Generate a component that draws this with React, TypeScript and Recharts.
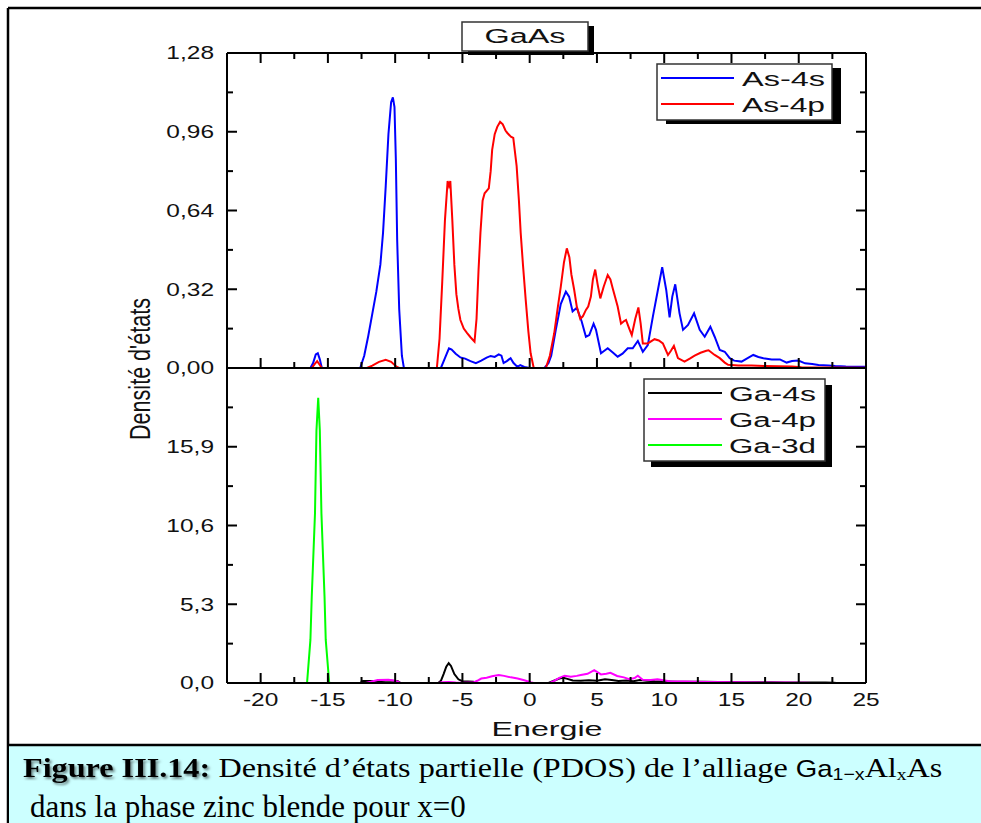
import React from "react";
import { LineChart, Line, XAxis, YAxis } from "recharts";

// energy (eV), density
const as4s: [number, number][] = [
  [-17.8, 0], [-16.3, 0], [-16.1, 0.02], [-15.9, 0.055], [-15.75, 0.06], [-15.6, 0.035], [-15.45, 0],
  [-12.6, 0], [-12.3, 0.05], [-12.0, 0.13], [-11.7, 0.22], [-11.4, 0.31], [-11.1, 0.42], [-10.9, 0.55],
  [-10.7, 0.74], [-10.5, 0.95], [-10.3, 1.08], [-10.17, 1.1], [-10.05, 1.06], [-9.95, 0.85], [-9.85, 0.52],
  [-9.7, 0.24], [-9.5, 0.05], [-9.35, 0],
  [-6.6, 0], [-6.3, 0.04], [-6.0, 0.08], [-5.8, 0.075], [-5.5, 0.058], [-5.15, 0.043], [-4.8, 0.038],
  [-4.4, 0.028], [-4.0, 0.02], [-3.6, 0.03], [-3.2, 0.042], [-2.9, 0.049], [-2.6, 0.045], [-2.3, 0.055],
  [-2.1, 0.05], [-1.94, 0.02], [-1.7, 0.028], [-1.42, 0.04], [-1.2, 0.02], [-0.92, 0.005], [-0.7, 0.012],
  [-0.4, 0.004], [0, 0], [1.1, 0], [1.4, 0.02], [1.6, 0.05], [1.94, 0.155], [2.31, 0.26], [2.69, 0.31],
  [2.93, 0.29], [3.19, 0.23], [3.5, 0.245], [3.86, 0.19], [4.18, 0.127], [4.43, 0.134], [4.75, 0.18],
  [4.93, 0.155], [5.3, 0.06], [5.8, 0.08], [6.2, 0.062], [6.54, 0.046], [6.9, 0.058], [7.29, 0.08],
  [7.66, 0.08], [8.04, 0.11], [8.41, 0.066], [8.78, 0.093], [9.16, 0.21], [9.53, 0.317], [9.85, 0.41],
  [10.15, 0.317], [10.4, 0.206], [10.6, 0.29], [10.82, 0.34], [11.14, 0.222], [11.4, 0.155], [11.77, 0.175],
  [12.22, 0.222], [12.64, 0.155], [13.01, 0.127], [13.43, 0.168], [13.75, 0.127], [14.13, 0.073],
  [14.5, 0.066], [14.87, 0.04], [15.2, 0.03], [15.75, 0.026], [16.2, 0.04], [16.62, 0.053], [17.0, 0.045],
  [17.37, 0.04], [17.99, 0.035], [18.6, 0.035], [19.1, 0.022], [19.5, 0.028], [19.98, 0.03], [20.47, 0.019],
  [21.0, 0.016], [21.47, 0.012], [22.2, 0.01], [22.71, 0.008], [23.5, 0.006], [25, 0.005],
];

const as4p: [number, number][] = [
  [-17.8, 0], [-16.2, 0], [-16.0, 0.015], [-15.8, 0.028], [-15.6, 0.012], [-15.45, 0], [-12.1, 0],
  [-11.7, 0.01], [-11.2, 0.025], [-10.7, 0.033], [-10.3, 0.025], [-9.9, 0.005], [-9.7, 0], [-6.9, 0],
  [-6.7, 0.12], [-6.5, 0.35], [-6.3, 0.6], [-6.1, 0.76], [-6.0, 0.74], [-5.9, 0.76], [-5.75, 0.6],
  [-5.6, 0.42], [-5.45, 0.3], [-5.3, 0.24], [-5.15, 0.195], [-4.9, 0.16], [-4.65, 0.142], [-4.4, 0.125],
  [-4.1, 0.107], [-3.95, 0.2], [-3.8, 0.4], [-3.66, 0.55], [-3.5, 0.68], [-3.35, 0.71], [-3.04, 0.73],
  [-2.9, 0.8], [-2.79, 0.886], [-2.6, 0.95], [-2.41, 0.98], [-2.2, 1.0], [-2.0, 0.99], [-1.8, 0.965],
  [-1.66, 0.955], [-1.4, 0.94], [-1.22, 0.935], [-1.1, 0.88], [-0.97, 0.82], [-0.8, 0.68], [-0.67, 0.55],
  [-0.5, 0.42], [-0.3, 0.28], [-0.1, 0.15], [0.07, 0.06], [0.3, 0], [1.2, 0], [1.5, 0.05], [1.82, 0.14],
  [2.1, 0.25], [2.31, 0.33], [2.55, 0.43], [2.76, 0.486], [2.95, 0.45], [3.1, 0.38], [3.31, 0.317],
  [3.5, 0.25], [3.76, 0.2], [3.95, 0.21], [4.18, 0.236], [4.35, 0.25], [4.55, 0.29], [4.7, 0.36],
  [4.87, 0.4], [5.05, 0.34], [5.25, 0.283], [5.5, 0.33], [5.8, 0.378], [6.0, 0.36], [6.17, 0.324],
  [6.54, 0.25], [6.79, 0.18], [7.0, 0.19], [7.16, 0.195], [7.4, 0.16], [7.59, 0.134], [7.85, 0.2],
  [8.08, 0.246], [8.25, 0.18], [8.41, 0.1], [8.78, 0.1], [9.28, 0.117], [9.6, 0.112], [9.9, 0.1],
  [10.28, 0.053], [10.5, 0.07], [10.72, 0.09], [11.02, 0.04], [11.51, 0.026], [11.9, 0.038], [12.26, 0.05],
  [12.7, 0.062], [13.13, 0.07], [13.3, 0.072], [13.75, 0.053], [14.13, 0.04], [14.5, 0.022], [14.75, 0.013],
  [15.5, 0.01], [16.5, 0.01], [17.5, 0.008], [18.5, 0.007], [19.5, 0.006], [20.2, 0.003], [22, 0.002],
  [25, 0.001],
];

const ga4s: [number, number][] = [
  [-18, 0], [-12.6, 0], [-12.4, 0.13], [-11, 0.14], [-10.4, 0.16], [-9.8, 0.12], [-9.6, 0], [-6.8, 0],
  [-6.6, 0.15], [-6.4, 0.6], [-6.2, 1.1], [-6.02, 1.33], [-5.85, 1.15], [-5.6, 0.6], [-5.3, 0.25],
  [-5.0, 0.12], [-4.6, 0.1], [-4.2, 0.08], [-3.9, 0], [1.4, 0], [1.8, 0.15], [2.2, 0.3], [2.5, 0.35],
  [2.8, 0.28], [3.2, 0.17], [3.8, 0.15], [4.4, 0.18], [5.0, 0.15], [5.6, 0.25], [6.1, 0.2], [6.6, 0.14],
  [7.2, 0.16], [7.7, 0.12], [8.2, 0.2], [8.7, 0.15], [9.3, 0.12], [10, 0.1], [11, 0.09], [12, 0.08],
  [13, 0.09], [14, 0.07], [15, 0.06], [16, 0.05], [17, 0.05], [18, 0.05], [19, 0.04], [20, 0.04],
  [21, 0.04], [22, 0.03], [22.6, 0.02], [22.8, 0],
];

const ga4p: [number, number][] = [
  [-18, 0], [-12.2, 0], [-11.8, 0.08], [-11.3, 0.2], [-10.5, 0.22], [-10.0, 0.15], [-9.6, 0], [-6.8, 0],
  [-6.5, 0.05], [-6.0, 0.07], [-5.5, 0.03], [-5.0, 0.02], [-4.2, 0.03], [-3.9, 0.15], [-3.6, 0.3],
  [-3.2, 0.35], [-2.8, 0.45], [-2.3, 0.54], [-1.9, 0.48], [-1.4, 0.38], [-0.9, 0.3], [-0.4, 0.18],
  [0.07, 0.05], [0.3, 0], [1.5, 0], [1.82, 0.15], [2.2, 0.35], [2.6, 0.48], [3.06, 0.42], [3.5, 0.48],
  [3.8, 0.54], [4.3, 0.62], [4.8, 0.87], [5.3, 0.58], [5.7, 0.62], [6.0, 0.69], [6.5, 0.47], [7.0, 0.38],
  [7.4, 0.25], [7.8, 0.33], [8.04, 0.49], [8.4, 0.22], [9.0, 0.2], [9.5, 0.25], [10.5, 0.1], [11.5, 0.1],
  [13, 0.07], [15.5, 0.05], [17, 0.04], [19, 0.03], [20.5, 0.01], [21, 0], [25, 0],
];

const ga3d: [number, number][] = [
  [-18, 0], [-16.55, 0], [-16.3, 2.9], [-16.2, 5.8], [-15.96, 11.4], [-15.85, 17], [-15.72, 19.2],
  [-15.6, 17], [-15.48, 11.4], [-15.25, 5.8], [-15.16, 2.9], [-14.9, 0], [25, 0],
];

const xTicks = [-20, -17.5, -15, -12.5, -10, -7.5, -5, -2.5, 0, 2.5, 5, 7.5, 10, 12.5, 15, 17.5, 20, 22.5, 25];
const xMajor = [-20, -15, -10, -5, 0, 5, 10, 15, 20, 25];
const topTicks = [0, 0.16, 0.32, 0.48, 0.64, 0.8, 0.96, 1.12, 1.28];
const topMajor = [0, 0.32, 0.64, 0.96, 1.28];
const botTicks = [0, 2.65, 5.3, 7.95, 10.6, 13.25, 15.9, 18.55, 21.2];
const botMajor = [0, 5.3, 10.6, 15.9, 21.2];
const botLabelled = [0, 5.3, 10.6, 15.9];

const topSeries = [
  { name: "As-4s", color: "#0000ff", data: as4s },
  { name: "As-4p", color: "#ff0000", data: as4p },
];
const botSeries = [
  { name: "Ga-4s", color: "#000000", data: ga4s },
  { name: "Ga-4p", color: "#ff00ff", data: ga4p },
  { name: "Ga-3d", color: "#00ff00", data: ga3d },
];

const SANS = "'Liberation Sans', Arial, sans-serif";
const SERIF = "'Liberation Serif', 'Times New Roman', serif";
const SX = 1.4;

const has = (arr: number[], v: number) => arr.some((m) => Math.abs(m - v) < 1e-6);

function makeTick(
  side: "left" | "right" | "top" | "bottom",
  majors: number[],
  labelled: number[] = [],
  fmt: (v: number) => string = (v) => String(v)
) {
  return (props: any) => {
    const { x, y, payload } = props;
    const v = payload.value;
    const len = has(majors, v) ? 10 : 6;
    const showLabel = has(labelled, v);
    let line;
    if (side === "left") line = <line x1={x} y1={y} x2={x + len} y2={y} />;
    else if (side === "right") line = <line x1={x} y1={y} x2={x - len} y2={y} />;
    else if (side === "top") line = <line x1={x} y1={y} x2={x} y2={y + len} />;
    else line = <line x1={x} y1={y} x2={x} y2={y - len} />;
    return (
      <g stroke="#000" strokeWidth={2}>
        {line}
        {showLabel && side === "left" && (
          <g transform={`translate(${x - 13},${y}) scale(${SX},1)`}>
            <text x={0} y={0} dy="0.36em" textAnchor="end" fontSize={17.5} fontFamily={SANS} fill="#111" stroke="none">
              {fmt(v)}
            </text>
          </g>
        )}
        {showLabel && side === "bottom" && (
          <g transform={`translate(${x},${y + 23}) scale(${SX},1)`}>
            <text x={0} y={0} textAnchor="middle" fontSize={17.5} fontFamily={SANS} fill="#111" stroke="none">
              {fmt(v)}
            </text>
          </g>
        )}
      </g>
    );
  };
}

const toPts = (d: [number, number][]) => d.map(([e, v]) => ({ e, v }));
const comma = (digits: number) => (v: number) => v.toFixed(digits).replace(".", ",");
const axisLine = { stroke: "#000", strokeWidth: 2 };

function Panel({
  top, height, marginTop, marginBottom, yDomain, yTicks, yMajor, yLabelled, yFmt, series, showXLabels, showTopAxis,
}: any) {
  return (
    <div style={{ position: "absolute", left: 0, top }}>
      <LineChart width={981} height={height} margin={{ top: marginTop, right: 105, bottom: marginBottom, left: 167 }}>
        <XAxis xAxisId="b" type="number" dataKey="e" domain={[-22.5, 25]} allowDataOverflow ticks={xTicks}
          interval={0} orientation="bottom" height={10} tickSize={0} tickMargin={0} tickLine={false}
          axisLine={axisLine} tick={makeTick("bottom", xMajor, showXLabels ? xMajor : [], (v) => String(v))} />
        {showTopAxis && (
          <XAxis xAxisId="t" type="number" dataKey="e" domain={[-22.5, 25]} allowDataOverflow ticks={xTicks}
            interval={0} orientation="top" height={10} tickSize={0} tickMargin={0} tickLine={false}
            axisLine={axisLine} tick={makeTick("top", xMajor)} />
        )}
        <YAxis yAxisId="l" type="number" domain={yDomain} allowDataOverflow ticks={yTicks} interval={0}
          orientation="left" width={60} tickSize={0} tickMargin={0} tickLine={false} axisLine={axisLine}
          tick={makeTick("left", yMajor, yLabelled, yFmt)} />
        <YAxis yAxisId="r" type="number" domain={yDomain} allowDataOverflow ticks={yTicks} interval={0}
          orientation="right" width={10} tickSize={0} tickMargin={0} tickLine={false} axisLine={axisLine}
          tick={makeTick("right", yMajor)} />
        {series.map((s: any) => (
          <Line key={s.name} xAxisId="b" yAxisId="l" data={toPts(s.data)} dataKey="v" type="linear"
            stroke={s.color} strokeWidth={2} dot={false} activeDot={false} isAnimationActive={false} />
        ))}
      </LineChart>
    </div>
  );
}

function LegendBox({ x, y, w, rowH, series, shadow, lineX1, lineX2, textX, textW, fontSize }: any) {
  const h = rowH * series.length + 4;
  return (
    <g>
      <rect x={x + shadow[0]} y={y + shadow[1]} width={w} height={h} fill="#000" />
      <rect x={x} y={y} width={w} height={h} fill="#fff" stroke="#333" strokeWidth={1.5} />
      {series.map((s: any, i: number) => {
        const cy = y + 14 + i * rowH;
        return (
          <g key={s.name}>
            <line x1={lineX1} x2={lineX2} y1={cy} y2={cy} stroke={s.color} strokeWidth={2} />
            <text x={textX} y={cy + 7.5} fontSize={fontSize} fontFamily={SANS} fill="#111"
              textLength={textW} lengthAdjust="spacingAndGlyphs">
              {s.name}
            </text>
          </g>
        );
      })}
    </g>
  );
}

export default function App() {
  return (
    <div style={{ position: "absolute", left: 0, top: 0, width: 981, height: 823, background: "#fff", overflow: "hidden" }}>
      <Panel top={0} height={400} marginTop={43} marginBottom={22} yDomain={[0, 1.28]} yTicks={topTicks}
        yMajor={topMajor} yLabelled={topMajor} yFmt={comma(2)} series={topSeries} showXLabels={false} showTopAxis />
      <Panel top={0} height={740} marginTop={368} marginBottom={47} yDomain={[0, 21.2]} yTicks={botTicks}
        yMajor={botMajor} yLabelled={botLabelled} yFmt={comma(1)} series={botSeries} showXLabels showTopAxis={false} />
      <svg width={981} height={823} style={{ position: "absolute", left: 0, top: 0, pointerEvents: "none" }}>
        <defs>
          <filter id="ds" x="-10%" y="-40%" width="125%" height="180%">
            <feDropShadow dx="1.5" dy="2" stdDeviation="1.3" floodColor="#000" floodOpacity="0.5" />
          </filter>
        </defs>
        {/* frame */}
        <line x1={8} y1={8} x2={981} y2={8} stroke="#000" strokeWidth={2.5} />
        <line x1={8} y1={8} x2={8} y2={823} stroke="#000" strokeWidth={2.5} />
        <rect x={9} y={746} width={972} height={77} fill="#ccffff" />
        <line x1={8} y1={745} x2={981} y2={745} stroke="#000" strokeWidth={2.5} />
        {/* title */}
        <rect x={468} y={26} width={126} height={29} fill="#000" />
        <rect x={462} y={22} width={126} height={29} fill="#fff" stroke="#333" strokeWidth={1.5} />
        <text x={525} y={43} textAnchor="middle" fontSize={20} fontFamily={SANS} fill="#111"
          textLength={81} lengthAdjust="spacingAndGlyphs">GaAs</text>
        <LegendBox x={657} y={64} w={175} rowH={26} series={topSeries} shadow={[9, 4]}
          lineX1={661} lineX2={734} textX={742} textW={83} fontSize={21} />
        <LegendBox x={644} y={379} w={181} rowH={26} series={botSeries} shadow={[7, 6]}
          lineX1={648} lineX2={722} textX={729} textW={87} fontSize={20} />
        {/* axis titles */}
        <text transform={`translate(140,369) rotate(-90) scale(1,1.4)`} textAnchor="middle" dy="0.35em"
          fontSize={21} fontFamily={SANS} fill="#111" textLength={142} lengthAdjust="spacingAndGlyphs">
          Densité d'états
        </text>
        <text x={547} y={736} textAnchor="middle" fontSize={20} fontFamily={SANS} fill="#111"
          textLength={111} lengthAdjust="spacingAndGlyphs">Energie</text>
        {/* caption */}
        <g transform="translate(23,777) scale(1.15,1)">
          <text x={0} y={0} fontSize={28} fontFamily={SERIF} fontWeight="bold" fill="#000" filter="url(#ds)">
            Figure III.14:
          </text>
          <text x={163} y={0} fontSize={28} fontFamily={SERIF} fill="#000" style={{ whiteSpace: "pre" }}>
            <tspan> Densité d’états partielle (PDOS) de l’alliage </tspan>
            <tspan fontFamily={SANS} fontSize={24}>Ga</tspan>
            <tspan fontFamily={SANS} fontSize={17} dy={3}>1−x</tspan>
            <tspan dy={-3}>Al</tspan>
            <tspan fontSize={17} dy={3}>x</tspan>
            <tspan dy={-3}>As</tspan>
          </text>
        </g>
        <text x={30} y={817} fontSize={31} fontFamily={SERIF} fill="#000">
          dans la phase zinc blende pour x=0
        </text>
      </svg>
    </div>
  );
}
